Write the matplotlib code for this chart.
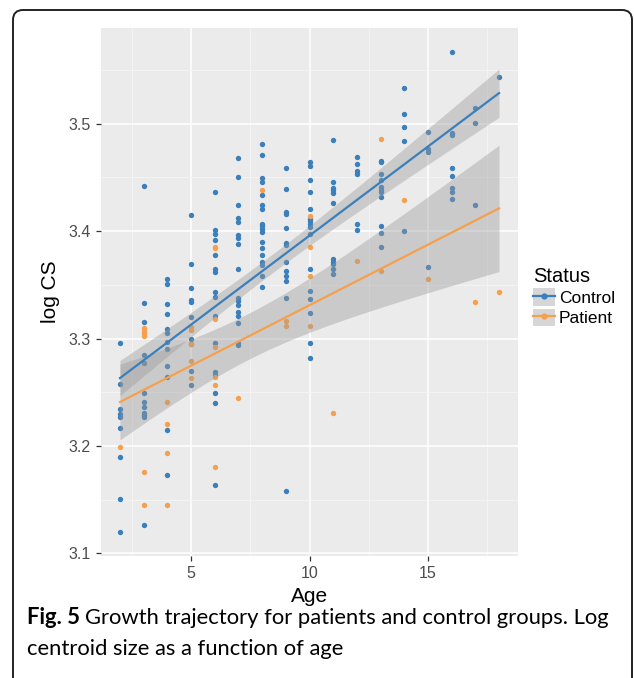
import numpy as np
import matplotlib
matplotlib.use('Agg')
import matplotlib.pyplot as plt
from matplotlib.patches import FancyBboxPatch, Patch
from matplotlib.lines import Line2D
from matplotlib.legend_handler import HandlerTuple
from matplotlib.transforms import IdentityTransform
from matplotlib.ticker import MultipleLocator

# log centroid size per age
control = {
    2: [3.296, 3.258, 3.234, 3.230, 3.227, 3.217, 3.190, 3.151, 3.120],
    3: [3.442, 3.333, 3.315, 3.285, 3.277, 3.249, 3.241, 3.236, 3.231, 3.229, 3.227, 3.126],
    4: [3.355, 3.351, 3.332, 3.323, 3.309, 3.305, 3.297, 3.290, 3.274, 3.264, 3.215, 3.173],
    5: [3.415, 3.369, 3.347, 3.336, 3.334, 3.320, 3.300, 3.295, 3.270, 3.257],
    6: [3.436, 3.401, 3.397, 3.392, 3.378, 3.365, 3.362, 3.343, 3.339, 3.321, 3.296,
        3.269, 3.266, 3.249, 3.240, 3.164],
    7: [3.468, 3.450, 3.424, 3.412, 3.408, 3.396, 3.394, 3.388, 3.365, 3.338, 3.335,
        3.331, 3.325, 3.321, 3.314, 3.296, 3.294],
    8: [3.481, 3.471, 3.449, 3.446, 3.434, 3.424, 3.421, 3.407, 3.405, 3.402, 3.399,
        3.390, 3.384, 3.378, 3.371, 3.368, 3.358, 3.348],
    9: [3.459, 3.439, 3.418, 3.416, 3.403, 3.389, 3.387, 3.371, 3.363, 3.358, 3.354,
        3.338, 3.158],
    10: [3.464, 3.461, 3.448, 3.436, 3.421, 3.411, 3.409, 3.407, 3.404, 3.397, 3.365,
         3.344, 3.337, 3.324, 3.296, 3.282],
    11: [3.485, 3.446, 3.440, 3.438, 3.435, 3.426, 3.374, 3.371, 3.369, 3.365, 3.360],
    12: [3.469, 3.462, 3.456, 3.453, 3.407, 3.401],
    13: [3.465, 3.464, 3.453, 3.448, 3.441, 3.438, 3.436, 3.432, 3.405, 3.398, 3.385],
    14: [3.533, 3.509, 3.497, 3.484, 3.400],
    15: [3.492, 3.476, 3.474, 3.367],
    16: [3.567, 3.491, 3.489, 3.459, 3.451, 3.440, 3.436, 3.430],
    17: [3.515, 3.501, 3.424],
    18: [3.543],
}
patient = {
    2: [3.199],
    3: [3.310, 3.307, 3.305, 3.302, 3.176, 3.145],
    4: [3.241, 3.220, 3.193, 3.145],
    5: [3.311, 3.308, 3.295, 3.279, 3.263],
    6: [3.385, 3.384, 3.318, 3.292, 3.264, 3.257, 3.180],
    7: [3.245],
    8: [3.438],
    9: [3.316, 3.312],
    10: [3.414, 3.385, 3.358, 3.312],
    11: [3.231],
    12: [3.372],
    13: [3.486, 3.363],
    14: [3.429],
    15: [3.355],
    17: [3.334],
    18: [3.343],
}
groups = ['Control', 'Patient']
colors = {'Control': '#3B7FBB', 'Patient': '#F6A04D'}
data = {'Control': control, 'Patient': patient}


def flatten(d):
    x = [a for a, vals in d.items() for _ in vals]
    y = [v for vals in d.values() for v in vals]
    return np.array(x, float), np.array(y, float)


def lm_band(x, y, grid):
    # ordinary least squares with 95% confidence band (like geom_smooth(method='lm'))
    n = len(x)
    b, a = np.polyfit(x, y, 1)
    resid = y - (a + b * x)
    s = np.sqrt(np.sum(resid ** 2) / (n - 2))
    sxx = np.sum((x - x.mean()) ** 2)
    t = 1.96 + 2.4 / (n - 2)
    se = s * np.sqrt(1.0 / n + (grid - x.mean()) ** 2 / sxx)
    fit = a + b * grid
    return fit, fit - t * se, fit + t * se


W, H = 634, 678
fig = plt.figure(figsize=(W / 100, H / 100), dpi=100)
plt.rcParams['font.family'] = ['Liberation Sans', 'DejaVu Sans']

ax = fig.add_axes([101 / W, 1 - 556 / H, (518 - 101) / W, (556 - 28) / H])
ax.set_facecolor('#EBEBEB')
for sp in ax.spines.values():
    sp.set_visible(False)

for g in groups:
    x, y = flatten(data[g])
    ax.scatter(x, y, s=15, color=colors[g], linewidths=0, zorder=3)

for g in groups:
    x, y = flatten(data[g])
    grid = np.linspace(x.min(), x.max(), 80)
    fit, lo, hi = lm_band(x, y, grid)
    ax.fill_between(grid, lo, hi, color='#999999', alpha=0.4, linewidth=0, zorder=4)
    ax.plot(grid, fit, color=colors[g], lw=1.6, zorder=5)

ax.set_xlim(1.2, 18.8)
ax.set_ylim(3.0976, 3.589)
ax.xaxis.set_major_locator(MultipleLocator(5))
ax.xaxis.set_minor_locator(MultipleLocator(2.5))
ax.yaxis.set_major_locator(MultipleLocator(0.1))
ax.yaxis.set_minor_locator(MultipleLocator(0.05))
ax.grid(which='major', color='white', lw=1.1, zorder=0)
ax.grid(which='minor', color='#F5F5F5', lw=0.6, zorder=0)
ax.set_axisbelow(True)
ax.tick_params(which='major', length=3.5, width=0.9, color='#333333',
               labelcolor='#4D4D4D', labelsize=11.5, pad=4)
ax.tick_params(which='minor', length=0)
ax.set_xlabel('Age', fontsize=15, labelpad=4)
ax.set_ylabel('log CS', fontsize=15, labelpad=6)

handles = [(Patch(facecolor='#999999', alpha=0.4, edgecolor='none'),
            Line2D([], [], color=colors[g], lw=1.6, marker='o', markersize=3.5))
           for g in groups]
leg = fig.legend(handles, groups, title='Status', loc='upper left',
                 bbox_to_anchor=(524 / W, 1 - 258 / H), frameon=False,
                 fontsize=12.5, title_fontsize=14.5, handlelength=1.3, handleheight=1.2,
                 handletextpad=0.2, labelspacing=0.15, borderpad=0,
                 handler_map={tuple: HandlerTuple(ndivide=1)})
leg._legend_box.align = 'left'

# caption
cap_font = ['Lato', 'DejaVu Sans']
cap_size = 15.8
t1 = fig.text(27 / W, 1 - 624 / H, 'Fig. 5', fontsize=cap_size, fontweight='bold',
              family=cap_font, va='baseline')
fig.canvas.draw()
bb = t1.get_window_extent(fig.canvas.get_renderer())
fig.text(bb.x1 / W + 5 / W, 1 - 624 / H,
         'Growth trajectory for patients and control groups. Log',
         fontsize=cap_size, family=cap_font, va='baseline')
fig.text(27 / W, 1 - 655 / H, 'centroid size as a function of age', fontsize=cap_size,
         family=cap_font, va='baseline')

frame = FancyBboxPatch((13, -30), 619, H - 10 + 30, boxstyle='round,pad=0,rounding_size=10',
                       transform=IdentityTransform(), facecolor='none',
                       edgecolor='#222222', lw=1.4)
fig.add_artist(frame)

fig.savefig('out.png', dpi=100)
